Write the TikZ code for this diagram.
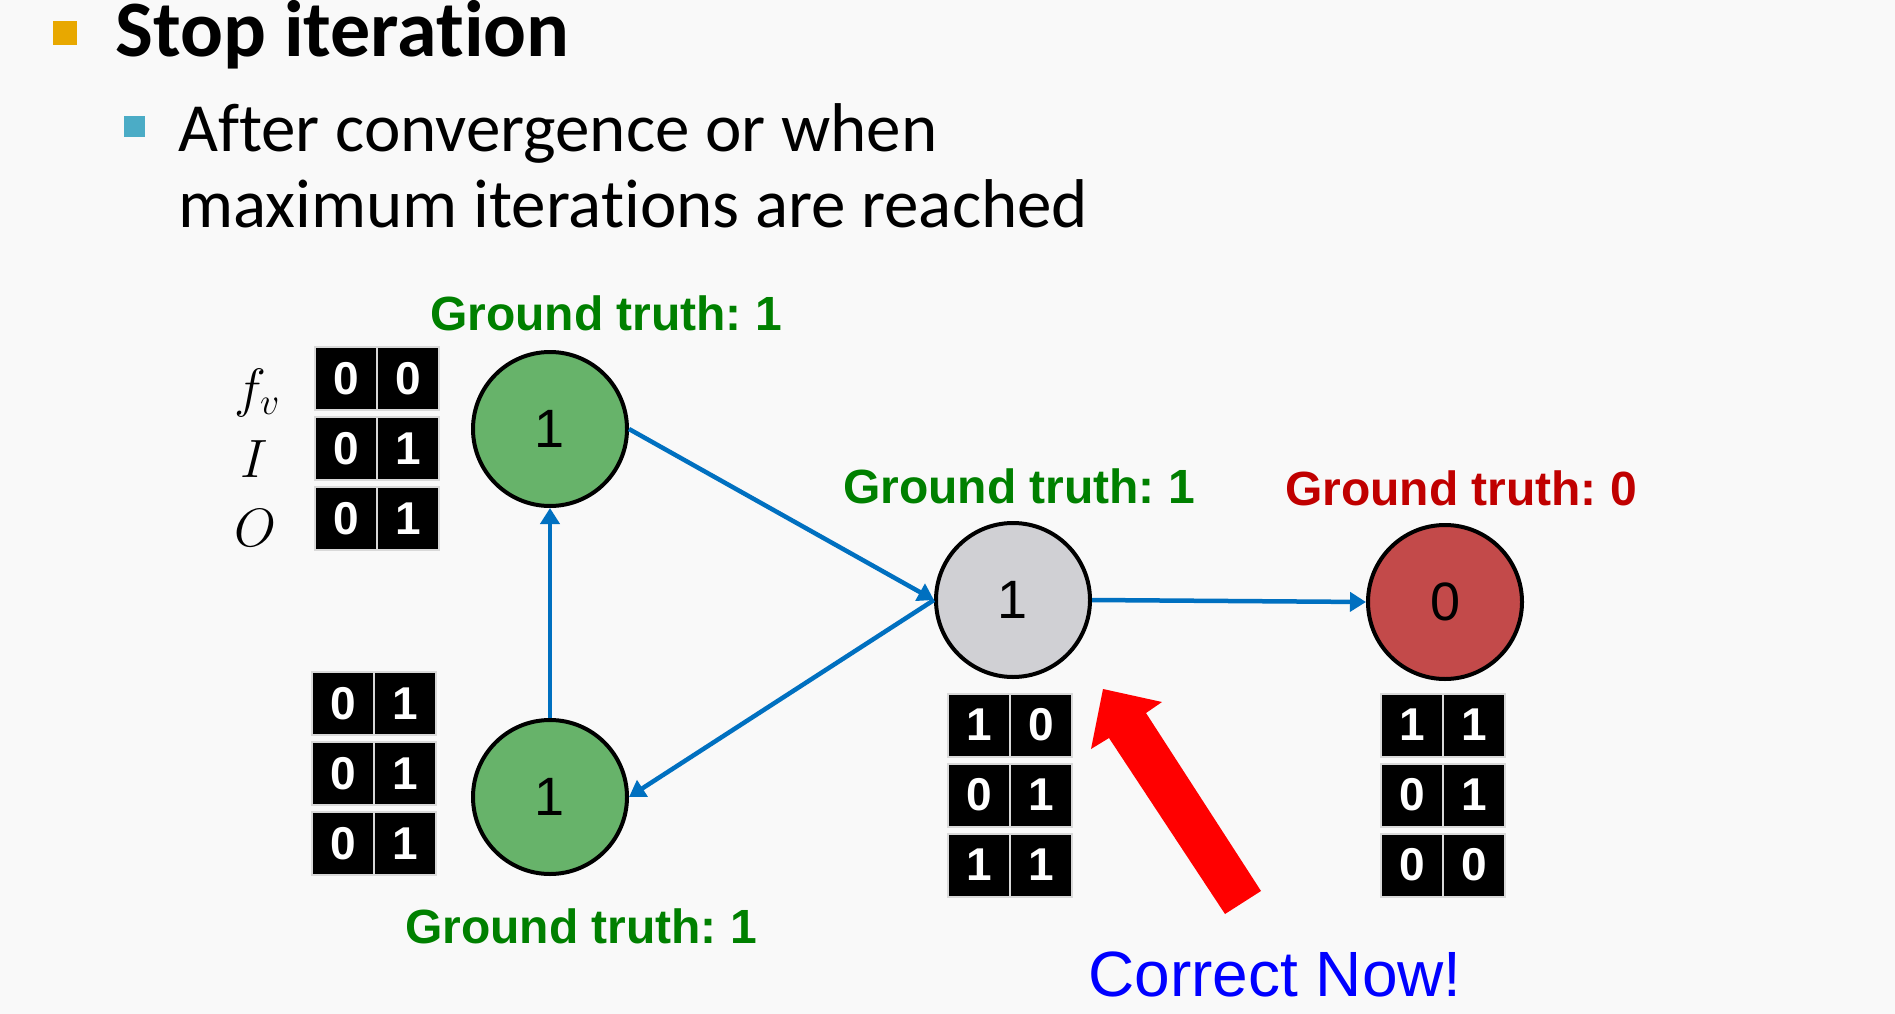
\documentclass[tikz,border=0pt]{standalone}
\usepackage{fix-cm}
\usepackage{fontspec}
\setmainfont{Carlito}[Ligatures=NoCommon]
\newfontfamily\arialf{Liberation Sans}
\usetikzlibrary{arrows.meta}
\definecolor{bgc}{HTML}{F9F9F9}
\definecolor{bulleto}{HTML}{E8A800}
\definecolor{bulletb}{HTML}{4BACC6}
\definecolor{gtgreen}{HTML}{008000}
\definecolor{gtred}{HTML}{C00000}
\definecolor{nodegreen}{HTML}{67B36A}
\definecolor{nodegray}{HTML}{D0D0D4}
\definecolor{nodered}{HTML}{C34A4A}
\definecolor{edgeblue}{HTML}{0070C0}
\definecolor{cellborder}{HTML}{D9D9D9}
\newcommand\fsz[1]{\fontsize{#1}{#1}\selectfont}
\newcommand\mkrow[5]{%
  \node[cellbox] (#1-a) at (#2-31,#3) {#4};
  \node[cellbox] (#1-b) at (#2+31,#3) {#5};}
\tikzset{
  gnode/.style={circle, draw=black, line width=4pt, minimum size=154pt, inner sep=0pt, font=\arialf\fsz{54}},
  cellbox/.style={rectangle, fill=black, draw=cellborder, line width=2pt, minimum width=62pt, minimum height=63pt, inner sep=0pt, text=white, font=\arialf\bfseries\fsz{46}},
  gtlabel/.style={anchor=base, inner sep=0pt, font=\arialf\bfseries\fsz{48}},
  edge/.style={draw=edgeblue, line width=4.5pt, -{Triangle[length=16pt,width=19pt]}},
  txt/.style={anchor=base west, inner sep=0pt},
  sidelab/.style={inner sep=0pt, font=\fsz{54}}
}
\frenchspacing
\begin{document}
\frenchspacing
\begin{tikzpicture}[x=1pt,y=-1pt]
\fill[bgc] (0,0) rectangle (1895,1014);
\useasboundingbox (0,0) rectangle (1895,1014);
% bullets and text
\node[fill=bulleto, minimum size=24pt, inner sep=0pt] (b1) at (65,33) {};
\node[txt, font=\bfseries\fsz{80}] (h1) at (115,57) {Stop iteration};
\node[fill=bulletb, minimum size=21pt, inner sep=0pt] (b2) at (134.5,126.5) {};
\node[txt, font=\fsz{69}] (s1) at (178,152) {After convergence or when};
\node[txt, font=\fsz{69}] (s2) at (178,227) {maximum iterations are reached};
% graph nodes
\node[gnode, fill=nodegreen] (tg) at (550,429) {1};
\node[gnode, fill=nodegreen] (bg) at (550,797) {1};
\node[gnode, fill=nodegray] (gr) at (1013,600) {1};
\node[gnode, fill=nodered] (rd) at (1445,602) {0};
% labels
\node[gtlabel, text=gtgreen] (l1) at (606,330) {Ground truth: 1};
\node[gtlabel, text=gtgreen] (l2) at (1019,503) {Ground truth: 1};
\node[gtlabel, text=gtred] (l3) at (1461,505) {Ground truth: 0};
\node[gtlabel, text=gtgreen] (l4) at (581,943) {Ground truth: 1};
% side labels
\node[sidelab] (fv) at (257,393) {$f_v$};
\node[sidelab] (iv) at (254,459) {$I$};
\node[sidelab] (ov) at (255,528) {$O$};
% tables
\mkrow{t1r1}{377}{378.5}{0}{0}
\mkrow{t1r2}{377}{448.5}{0}{1}
\mkrow{t1r3}{377}{518.5}{0}{1}
\mkrow{t2r1}{374}{703.5}{0}{1}
\mkrow{t2r2}{374}{773.5}{0}{1}
\mkrow{t2r3}{374}{843.5}{0}{1}
\mkrow{t3r1}{1010}{725}{1}{0}
\mkrow{t3r2}{1010}{795}{0}{1}
\mkrow{t3r3}{1010}{865}{1}{1}
\mkrow{t4r1}{1443}{725}{1}{1}
\mkrow{t4r2}{1443}{795}{0}{1}
\mkrow{t4r3}{1443}{865}{0}{0}
% edges
\draw[edge] (bg.north) -- (tg.south);
\draw[edge] (tg.east) -- (gr.west);
\draw[edge] (gr.west) -- (bg.east);
\draw[edge] (gr.east) -- (rd.west);
% big red arrow
\fill[red] (1103,689) -- (1162,702) -- (1146,713) -- (1261,891) -- (1225,914) -- (1109,738) -- (1091,749) -- cycle;
\node[anchor=base, inner sep=0pt, text=blue, font=\arialf\fsz{64}] (cn) at (1275,996) {Correct Now!};
\end{tikzpicture}
\end{document}
